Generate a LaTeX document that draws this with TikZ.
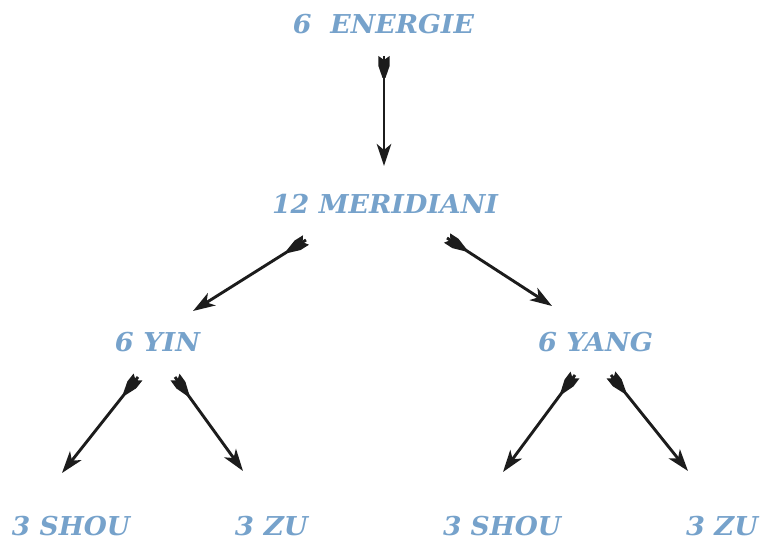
\documentclass[tikz,border=0pt]{standalone}
\usepackage{fontspec}
\setmainfont{DejaVu Serif}
\usetikzlibrary{arrows.meta,decorations.markings}
\definecolor{lbl}{RGB}{118,162,203}
\definecolor{ink}{RGB}{28,28,28}
\newcommand{\lbltext}[2]{\resizebox{#1pt}{\height}{\bfseries\itshape #2}}
\tikzset{
  lbl/.style={text=lbl, inner sep=0pt, anchor=base, font=\fontsize{26}{29}\selectfont},
  fletched/.style={draw=ink, line width=2.9pt, -{Stealth[length=22pt,width=14.5pt,inset=6pt]},
    postaction={decorate, decoration={markings, mark=at position 0 with {
      \fill[ink] (0,5.6) -- (10,5.6) -- (22,1.45) -- (22,-1.45) -- (10,-5.6) -- (0,-5.6) -- (4,0) -- cycle;}}}}
}
\begin{document}
\begin{tikzpicture}[x=1pt,y=-1pt]
\useasboundingbox (0,0) rectangle (761,540);
\node[lbl] (energie) at (383.5,33.5) {\lbltext{181}{6\ \ ENERGIE}};
\node[lbl] (merid) at (385,213.5) {\lbltext{226}{12 MERIDIANI}};
\node[lbl] (yin) at (157.5,351.5) {\lbltext{85}{6 YIN}};
\node[lbl] (yang) at (595.5,351.5) {\lbltext{115}{6 YANG}};
\node[lbl] (shouL) at (71,535) {\lbltext{118}{3 SHOU}};
\node[lbl] (zuL) at (271.5,535) {\lbltext{73}{3 ZU}};
\node[lbl] (shouR) at (502,535) {\lbltext{118}{3 SHOU}};
\node[lbl] (zuR) at (722,535) {\lbltext{72}{3 ZU}};
% arrow end points
\coordinate (a1s) at (384,56);  \coordinate (a1e) at (384,166);
\coordinate (a2s) at (306,240); \coordinate (a2e) at (193,311);
\coordinate (a3s) at (447,238); \coordinate (a3e) at (552,306);
\coordinate (a4s) at (138,377); \coordinate (a4e) at (62,473);
\coordinate (a5s) at (175,377); \coordinate (a5e) at (243,471);
\coordinate (a6s) at (575,375); \coordinate (a6e) at (503,472);
\coordinate (a7s) at (611,375); \coordinate (a7e) at (688,471);
\draw[fletched] (a1s) -- (a1e);
\draw[fletched] (a2s) -- (a2e);
\draw[fletched] (a3s) -- (a3e);
\draw[fletched] (a4s) -- (a4e);
\draw[fletched] (a5s) -- (a5e);
\draw[fletched] (a6s) -- (a6e);
\draw[fletched] (a7s) -- (a7e);
\end{tikzpicture}
\end{document}
